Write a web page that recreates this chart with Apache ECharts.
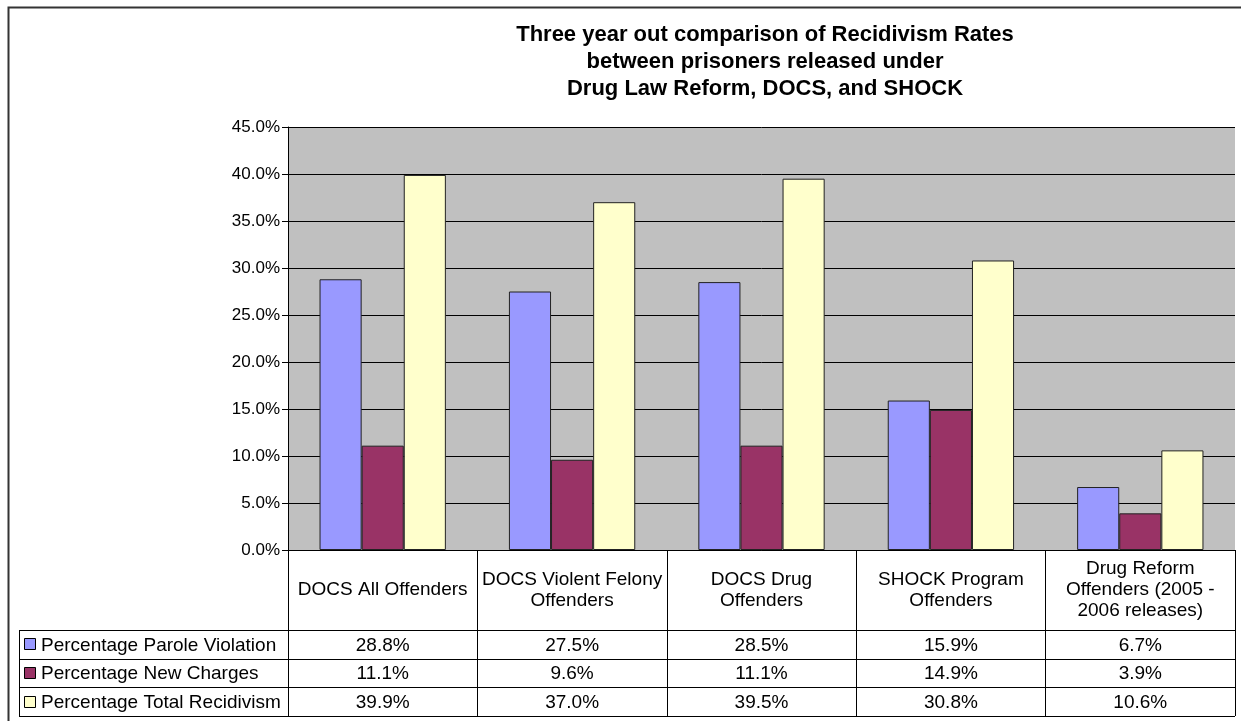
<!DOCTYPE html>
<html>
<head>
<meta charset="utf-8">
<script src="https://cdn.jsdelivr.net/npm/echarts@6/dist/echarts.min.js"></script>
<style>html,body{margin:0;padding:0;background:#fff}#c{width:1241px;height:721px}</style>
</head>
<body>
<div id="c"></div>
<script>
var titleText = 'Three year out comparison of Recidivism Rates\nbetween prisoners released under\nDrug Law Reform, DOCS, and SHOCK';
var categories = ['DOCS All Offenders', 'DOCS Violent Felony\nOffenders', 'DOCS Drug\nOffenders', 'SHOCK Program\nOffenders', 'Drug Reform\nOffenders (2005 -\n2006 releases)'];
var seriesNames = ['Percentage Parole Violation', 'Percentage New Charges', 'Percentage Total Recidivism'];
var paroleViolation = [28.8, 27.5, 28.5, 15.9, 6.7];
var newCharges = [11.1, 9.6, 11.1, 14.9, 3.9];
var totalRecidivism = [39.9, 37.0, 39.5, 30.8, 10.6];
var colors = ['#9999FF', '#993366', '#FFFFCC'];
var yTicks = {min: 0, max: 45, interval: 5};

var allSeries = [paroleViolation, newCharges, totalRecidivism];
var FONT = 'Liberation Sans, Arial, sans-serif';
var chart = echarts.init(document.getElementById('c'), null, {renderer: 'canvas'});

var gridLeft = 288, gridRight = 6, gridTop = 127, gridBottom = 171;
var headerBottom = 630, rowH = 28.7;
var tableFont = 19;

var option = {
  animation: false,
  backgroundColor: '#fff',
  title: {
    text: titleText,
    left: 760, top: 16, textAlign: 'center',
    textStyle: {fontFamily: FONT, fontSize: 22, fontWeight: 'bold', color: '#000', lineHeight: 27}
  },
  grid: {left: gridLeft, right: gridRight, top: gridTop, bottom: gridBottom, show: true, backgroundColor: '#C0C0C0', borderWidth: 0},
  xAxis: {
    type: 'category', data: categories,
    axisLine: {show: true, lineStyle: {color: '#000', width: 1}},
    axisTick: {show: true, length: 166, lineStyle: {color: '#000', width: 1}},
    axisLabel: {fontFamily: FONT, fontSize: tableFont, color: '#000', lineHeight: 21, margin: 40, verticalAlign: 'middle', interval: 0}
  },
  yAxis: {
    type: 'value', min: yTicks.min, max: yTicks.max, interval: yTicks.interval,
    axisLine: {show: true, lineStyle: {color: '#000', width: 1}},
    axisTick: {show: true, length: 6, lineStyle: {color: '#000'}},
    axisLabel: {fontFamily: FONT, fontSize: 17, color: '#000', margin: 8, formatter: function (v) { return v.toFixed(1) + '%'; }},
    splitLine: {show: true, lineStyle: {color: '#000', width: 1}}
  },
  series: allSeries.map(function (d, i) {
    return {
      name: seriesNames[i], type: 'bar', data: d,
      barGap: '0%', barCategoryGap: '33.3%',
      itemStyle: {color: colors[i], borderColor: '#222', borderWidth: 1}
    };
  })
};
chart.setOption(option);

// Data table built from the arrays
var g = [];
var tableRight = 1241 - gridRight;
var tableLeft = 19;
var lineStyle = {stroke: '#000', lineWidth: 1};
for (var r = 0; r <= 3; r++) {
  var y = Math.round(headerBottom + r * rowH) + 0.5;
  g.push({type: 'line', shape: {x1: tableLeft, y1: y, x2: tableRight, y2: y}, style: lineStyle, silent: true});
}
g.push({type: 'line', shape: {x1: tableLeft + 0.5, y1: headerBottom, x2: tableLeft + 0.5, y2: headerBottom + 3 * rowH}, style: lineStyle});
for (var s = 0; s < 3; s++) {
  var cy = headerBottom + (s + 0.5) * rowH;
  g.push({type: 'rect', shape: {x: 24.5, y: Math.round(cy - 6) + 0.5, width: 11, height: 11}, style: {fill: colors[s], stroke: '#000', lineWidth: 1}});
  g.push({type: 'text', x: 41, y: cy + 1, style: {text: seriesNames[s], font: tableFont + 'px ' + FONT, fill: '#000', textVerticalAlign: 'middle', verticalAlign: 'middle'}});
  for (var c = 0; c < categories.length; c++) {
    var px = chart.convertToPixel({xAxisIndex: 0}, c);
    g.push({type: 'text', x: px, y: cy + 1, style: {text: allSeries[s][c].toFixed(1) + '%', font: tableFont + 'px ' + FONT, fill: '#000', align: 'center', textAlign: 'center', verticalAlign: 'middle', textVerticalAlign: 'middle'}});
  }
}
g.push({type: 'rect', shape: {x: 8.5, y: 7.5, width: 1300, height: 800}, style: {fill: 'none', stroke: '#333', lineWidth: 2}, silent: true});
chart.setOption({graphic: g});
</script>
</body>
</html>
